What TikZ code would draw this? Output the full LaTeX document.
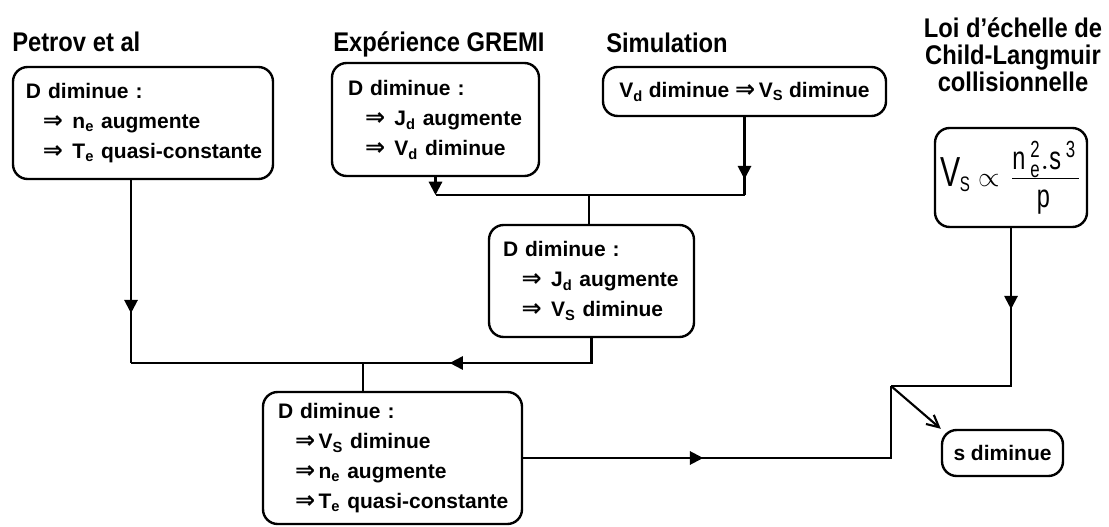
\documentclass[tikz,border=0pt]{standalone}
\usepackage{fontspec}
\setmainfont{Liberation Sans}
\setsansfont{Liberation Sans}[FakeStretch=0.72]
\newfontfamily\titrefont{Liberation Sans}[FakeStretch=0.88]
\newfontfamily\flechefont{DejaVu Sans}
\usepackage{tikz}
\usetikzlibrary{arrows.meta,decorations.markings}

\newcommand{\impl}{{\flechefont\bfseries\fontsize{18}{18}\selectfont ⇒}}

\tikzset{
  boite/.style={draw, line width=1.8pt, rounded corners=11pt, align=left, inner ysep=2pt,
    font=\bfseries\fontsize{15.75}{22.5}\selectfont},
  titre/.style={inner sep=0pt, font=\titrefont\bfseries\fontsize{20.25}{20.25}\selectfont},
  lien/.style={line width=1.6pt},
  fleche/.style={-{Triangle[length=10pt,width=10pt]}},
  fleche mi/.style={postaction={decorate}, decoration={markings,
    mark=at position #1 with {\arrow{Triangle[length=10pt,width=10pt]}}}},
}

\begin{document}
\begin{tikzpicture}[x=0.75pt,y=-0.75pt]
  \useasboundingbox (0,0) rectangle (1109,527);

  % titres
  \node[titre, anchor=base west] (tpetrov) at (12,52) {Petrov et al};
  \node[titre, anchor=base west] (tgremi) at (333,52) {Expérience GREMI};
  \node[titre, anchor=base west] (tsimul) at (606,53) {Simulation};
  \node[titre, align=center, anchor=north] (tloi) at (1013,17) {Loi d’échelle de\\Child-Langmuir\\collisionnelle};

  % boites
  \node[boite, text width=175.5pt, inner xsep=9.75pt, minimum height=84pt] (petrov) at (143,123)
    {D diminue :\\
     \mbox{\hspace*{12.75pt}\impl\hspace{7pt}n\textsubscript{e} augmente}\\
     \mbox{\hspace*{12.75pt}\impl\hspace{7pt}T\textsubscript{e} quasi-constante}};
  \node[boite, text width=131.25pt, inner xsep=12pt, minimum height=84.75pt] (gremi) at (435.5,119.5)
    {D diminue :\\
     \mbox{\hspace*{12.75pt}\impl\hspace{7pt}J\textsubscript{d} augmente}\\
     \mbox{\hspace*{12.75pt}\impl\hspace{7pt}V\textsubscript{d} diminue}};
  \node[boite, align=center, minimum width=212.25pt, minimum height=36.75pt] (simul) at (744.5,91.5)
    {V\textsubscript{d} diminue \impl\,V\textsubscript{S} diminue};
  \node[boite, text width=132.75pt, inner xsep=10.5pt, minimum height=84pt] (milieu) at (591.5,281)
    {D diminue :\\
     \mbox{\hspace*{14pt}\impl\hspace{7pt}J\textsubscript{d} augmente}\\
     \mbox{\hspace*{14pt}\impl\hspace{7pt}V\textsubscript{S} diminue}};
  \node[boite, text width=171.75pt, inner xsep=11.25pt, minimum height=99pt] (bas) at (392.5,458)
    {D diminue :\\
     \mbox{\hspace*{12.75pt}\impl\,V\textsubscript{S} diminue}\\
     \mbox{\hspace*{12.75pt}\impl\,n\textsubscript{e} augmente}\\
     \mbox{\hspace*{12.75pt}\impl\,T\textsubscript{e} quasi-constante}};
  \node[boite, align=center, minimum width=114pt, minimum height=74.25pt,
        font=\fontsize{31.5}{36}\selectfont] (formule) at (1011,177.5)
    {$\mathsf{V}\mkern-5mu{}_{\scriptscriptstyle\mathsf{S}}\mkern-3mu\mathrel{\scriptstyle\propto}\mkern6mu$%
     {\fontsize{35}{40}\selectfont$\frac{\mathsf{n}_{\mathsf{e}}^{\mathsf{2}}\mkern-2mu\mathsf{.s}^{\mathsf{3}}}{\rule{0pt}{21pt}\mathsf{p}}$}};
  \node[boite, align=center, minimum width=90.75pt, minimum height=34.5pt] (sdim) at (1002.5,453)
    {s diminue};

  % jonctions
  \coordinate (jgauche) at (131,363);
  \coordinate (jbas) at (363,363);
  \coordinate (jhaut) at (589,195);
  \coordinate (coude) at (891,386);

  % liaisons
  \draw[lien, fleche] (gremi.south) -- (gremi.south |- jhaut);
  \draw[lien, fleche mi=46.5pt] (simul.south) -- (simul.south |- jhaut);
  \draw[lien] (gremi.south |- jhaut) -- (simul.south |- jhaut);
  \draw[lien] (jhaut) -- (milieu.north -| jhaut);
  \draw[lien, fleche mi=99.75pt] (petrov.south -| jgauche) -- (jgauche);
  \draw[lien, fleche mi=125pt] (milieu.south) |- (jgauche);
  \draw[lien] (jbas) -- (bas.north -| jbas);
  \draw[lien, fleche mi=135pt] (bas.east) -| (coude);
  \draw[lien, fleche mi=60.75pt] (formule.south) -- (formule.south |- coude) -- (coude);
  \draw[lien, -{Straight Barb[length=9pt,width=9pt]}] (coude) -- (sdim.north west);
\end{tikzpicture}
\end{document}
